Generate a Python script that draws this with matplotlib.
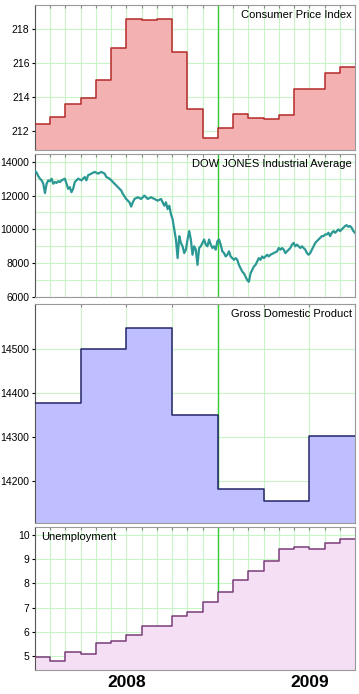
import numpy as np
import matplotlib.pyplot as plt
from matplotlib.ticker import MultipleLocator, FixedLocator

plt.rcParams['font.family'] = ['Liberation Sans', 'DejaVu Sans']

# monthly x axis, Jan 2008 .. Sep 2009 (month index 0..20)
n_months = 21
month_edges = np.arange(n_months + 1)
quarter_edges = np.arange(0, n_months + 1, 3)

cpi = [212.41, 212.84, 213.62, 213.94, 215.02, 216.90, 218.59, 218.55, 218.62,
       216.68, 213.31, 211.62, 212.18, 213.00, 212.78, 212.71, 212.94, 214.47,
       214.47, 215.45, 215.80]

dow = [13450, 13350, 13150, 13000, 12900, 12700, 12150, 12700, 12900, 12850,
       13000, 12700, 12800, 12750, 12850, 12800, 12900, 12950, 13000, 12700,
       12400, 12500, 12200, 12400, 12800, 12900, 13000, 12950, 12900, 13000,
       13100, 12900, 13200, 13250, 13300, 13350, 13400, 13350, 13300, 13350,
       13400, 13350, 13300, 13100, 13050, 13000, 12900, 12800, 12700, 12600,
       12500, 12400, 12300, 12100, 11950, 11800, 11700, 11600, 11350, 11600,
       11800, 11850, 11900, 11850, 11800, 11900, 12000, 11900, 11800, 11850,
       11900, 11850, 11800, 11750, 11700, 11750, 11800, 11600, 11400, 11600,
       11200, 11400, 10900, 10600, 10000, 9400, 8300, 9600, 9200, 9000,
       8600, 8800, 9400, 9900, 9400, 8500, 9000, 8800,
       7900, 8900, 9000, 9200, 9400, 9100, 9000, 9400, 9100, 8900,
       9000, 8800, 9300, 9400, 9100, 8700, 8600, 8400, 8500, 8700,
       8400, 8300, 8200, 8300, 8200, 7900, 7700, 7500, 7400, 7200,
       7000, 6900, 7400, 7600, 7800, 7900, 8100, 8300, 8200, 8400,
       8300, 8400, 8500, 8400, 8500, 8550, 8600, 8650, 8700, 8900,
       8800, 8900, 8800, 8600, 8700, 8800, 8900, 9100, 9200, 9000,
       9100, 9000, 8900, 9000, 8900, 8800, 8600, 8500, 8600, 8800,
       9000, 9200, 9300, 9400, 9500, 9600, 9600, 9700, 9700, 9800,
       9600, 9800, 9900, 9800, 9900, 10000, 9900, 10000, 10100, 10200,
       10250, 10150, 10200, 10100, 9900, 9800]

gdp = [14377, 14500, 14547, 14348, 14182, 14155, 14301]

unemp = [4.95, 4.79, 5.15, 5.07, 5.55, 5.63, 5.87, 6.24, 6.24, 6.65, 6.83,
         7.23, 7.64, 8.13, 8.53, 8.94, 9.41, 9.52, 9.41, 9.68, 9.82]

years = ['2008', '2009']
year_mid = [6, 18]
marker_month = 12

fig = plt.figure(figsize=(3.59, 6.94), dpi=100)
W, H = 359.0, 694.0


def make_ax(top, bottom):
    ax = fig.add_axes([35 / W, 1 - bottom / H, 320 / W, (bottom - top) / H])
    ax.set_xlim(0, n_months)
    ax.set_axisbelow(True)
    ax.grid(True, which='both', color='#c8f5c8', lw=0.8)
    ax.axvline(marker_month, color='#33cc33', lw=1.0, zorder=1)
    ax.xaxis.set_major_locator(MultipleLocator(1))
    ax.tick_params(axis='x', bottom=False, top=True, direction='in',
                   length=2, color='#888888', labelbottom=False)
    ax.tick_params(axis='y', which='major', length=2, labelsize=7.5, pad=2)
    ax.tick_params(axis='y', which='minor', length=0)
    ax.spines['left'].set_color('#555555')
    for s in ['top', 'right', 'bottom']:
        ax.spines[s].set_color('#999999')
    return ax


def step_panel(ax, edges, values, fill, line):
    y = list(values) + [values[-1]]
    lo = ax.get_ylim()[0]
    ax.fill_between(edges, y, lo, step='post', color=fill, lw=0, zorder=2)
    ax.step(edges, y, where='post', color=line, lw=1.1, zorder=3)


# Consumer Price Index
ax1 = make_ax(5, 150)
ax1.set_ylim(210.9, 219.43)
ax1.yaxis.set_major_locator(MultipleLocator(2))
step_panel(ax1, month_edges, cpi, '#f4b1b1', '#b52a2a')
ax1.text(0.99, 0.965, 'Consumer Price Index', transform=ax1.transAxes,
         ha='right', va='top', fontsize=8)

# Dow Jones
ax2 = make_ax(154, 297)
ax2.set_ylim(6000, 14460)
ax2.yaxis.set_major_locator(MultipleLocator(2000))
ax2.yaxis.set_minor_locator(MultipleLocator(1000))
dow_x = np.linspace(0, n_months, len(dow))
ax2.plot(dow_x, dow, color='#2b9894', lw=1.6, zorder=3)
ax2.text(0.99, 0.965, 'DOW JONES Industrial Average', transform=ax2.transAxes,
         ha='right', va='top', fontsize=8)

# GDP
ax3 = make_ax(304, 523)
ax3.set_ylim(14104, 14601)
ax3.yaxis.set_major_locator(FixedLocator([14200, 14300, 14400, 14500]))
ax3.xaxis.set_major_locator(MultipleLocator(3))
step_panel(ax3, quarter_edges, gdp, '#bfbfff', '#25256a')
ax3.text(0.99, 0.975, 'Gross Domestic Product', transform=ax3.transAxes,
         ha='right', va='top', fontsize=8)

# Unemployment
ax4 = make_ax(527, 670)
ax4.set_ylim(4.42, 10.33)
ax4.yaxis.set_major_locator(MultipleLocator(1))
step_panel(ax4, month_edges, unemp, '#f5dff5', '#7a3c7a')
ax4.text(0.02, 0.965, 'Unemployment', transform=ax4.transAxes,
         ha='left', va='top', fontsize=8)

for xm, lab in zip(year_mid, years):
    ax4.text(xm, -0.085, lab, transform=ax4.get_xaxis_transform(),
             ha='center', va='center', fontsize=12.5, fontweight='bold')

fig.savefig('out.png', dpi=100)
